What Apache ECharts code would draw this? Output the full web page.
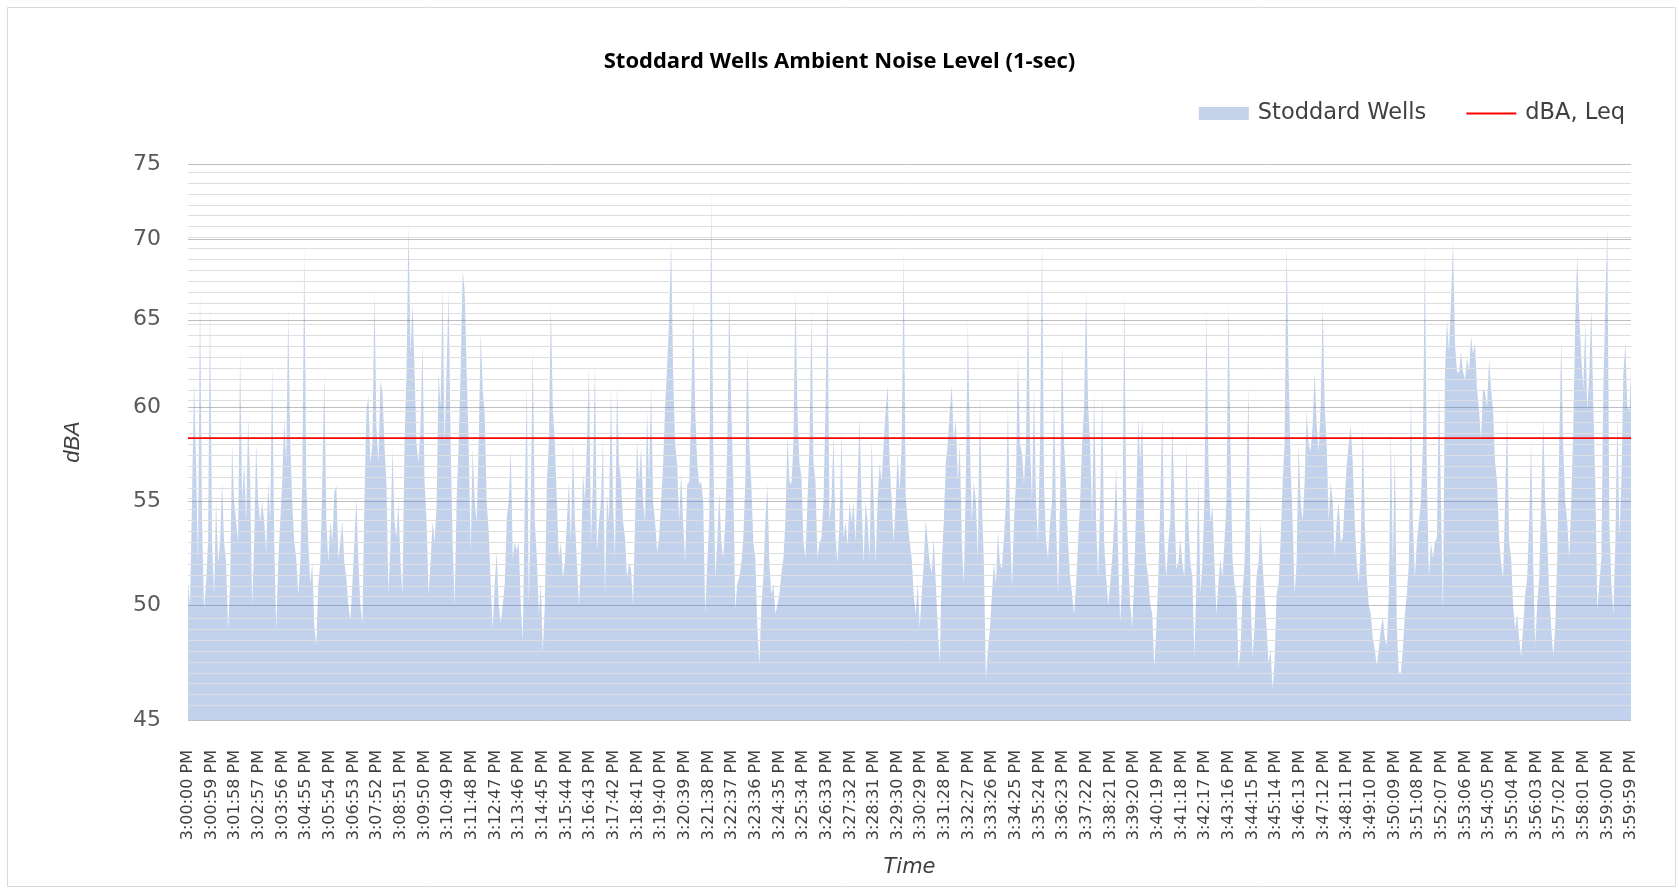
<!DOCTYPE html>
<html><head><meta charset="utf-8">
<script src="https://cdn.jsdelivr.net/npm/echarts@6/dist/echarts.min.js"></script>
<style>html,body{margin:0;padding:0;background:#fff}#chart{width:1679px;height:890px}</style>
</head><body><div id="chart"></div>
<script>
// ---------------- data ----------------
const chartTitle = 'Stoddard Wells Ambient Noise Level (1-sec)';
const areaName = 'Stoddard Wells';
const leqName = 'dBA, Leq';
const xName = 'Time';
const yName = 'dBA';
const durationSec = 3600;          // 3:00:00 PM .. 3:59:59 PM
const sampleStepSec = 5;
const xLabelEvery = 59;            // a tick label every 59 s
const yTickLabels = [45, 50, 55, 60, 65, 70, 75];
const yMin = 45, yMax = 75;
const minorPerMajor = 12;
const leqDBA = 58.3;

// start second of each segment; values every 5 s inside a segment
const segmentStartSec = [0, 310, 630, 960, 1280, 1605, 1930, 2255, 2580, 2905, 3230];
const levelsA = [51,50,55,61.5,57,52,66.7,54,49.8,51,
  53,65.7,53,50.5,55,52,53,56,53,52,
  48.9,51,58,55,54,53,63.1,55,57,54,
  59.4,56,50,53,58,55,54,55,54,52.5,
  56,54,62.5,53,48.9,52,54,56,59.4,57,
  65.5,58,55,53,52.2,50.5,52,56,69.5,56,
  53,51];
const levelsB = [52,49,48.2,51,52,56,61.9,54,52,54,
  53,55.5,55.8,52.2,53,54,52,51.3,50,49.3,
  51,53,55.2,52,50,49.2,55,59.8,60.6,57,
  58,66.8,58.8,57,61.5,60.8,58,55.8,50.5,53,
  57.8,54,53.2,55,52,50.5,58,62,71,63,
  66,62,58,57,59,63.6,56,54,50.5,52,
  54,53,54.8,61.9];
const levelsC = [60,67,58,62,66.8,58,53,50,55,58,
  62,68,66.8,62,58,52.5,57.8,55,54,58,
  64.2,61,59.6,55,53.5,51,48.9,51,52.5,50,
  49.2,50,51,54.2,55,57.8,52.2,53,52.6,53,
  50,48.4,55,61.2,50,55,63.4,54,52.2,49.6,
  51,47.9,50,56,58,65.9,59.8,58,55,52.2,
  53,51.3,52,54,56,53];
const levelsD = [58.2,54,52,50,52,56.5,55,58,62.3,53,
  56,62.5,52.6,54,55,58.2,50.5,55.3,54,61,
  55,52.2,61.2,57,56.1,54,53.2,51.3,52,51.7,
  50,54,58.2,56,57.8,55,54,59.8,56,61.2,
  55,54,52.5,53.2,55,56.9,60,62.3,65,69.8,
  61.9,58,56.9,54,56.5,54,52,55.9,56,60,
  66.2,59.8,57,55.9];
const levelsE = [56,55,49.6,52,54,73.2,58,51.3,53,55.5,
  53,52.2,54,58,66.6,60,56,49.8,51,51.3,
  52,53.2,56,63.4,58,55.9,53,52.2,49,47.3,
  50,51.3,54,55.9,52,50.5,51,49.6,50,50.5,
  51.5,52.2,54,58.4,56,55.9,58,66.7,59.8,57,
  56.3,53,52.2,55,58,65.5,57,56,52.2,53,
  53.2,55,60,66.8,54];
const levelsF = [55,58.5,53.2,52,54,58.6,53.2,54,52.8,55,
  54,55,53,56,59.4,55,52,55,54,52.2,
  58.2,55,52,55,57,56,58,59.8,61.2,57,
  55,53,55,57.5,55.5,58,69.2,55.2,54,53,
  52.2,50.5,49.6,51,49,50.5,52,54.1,53,52,
  51.5,53.2,51,49,47.4,52,54,57,58,59.8,
  61.2,58,59.4,56,58];
const levelsG = [53,51,56,65,58,54,56,55,52.2,60.6,
  55,52,46.7,48,48.9,50.5,52,51,53.5,52,
  51.7,53.2,55,60,54,50.8,54,56,63,58,
  57.5,55.9,58,66.9,58,55,61.2,55,53,58,
  70,56,53,52.2,54,55,60.6,54,50.5,55,
  63.7,58,55.9,53,51.3,50.5,49.6,51,53,55,
  58,60,66.8,60,58];
const levelsH = [54,60.8,54,51.3,55,60.6,53,51.3,50,51,
  52.2,54,56.8,52.2,49.2,51.3,66.8,55,52.2,50,
  49,51.3,55,59.4,57,59.4,54,52,51.3,50,
  49.6,47.2,49,51.3,55,59.6,53,51.3,53,54,
  59,55,51.7,52,53.2,52,51.3,58,54,52,
  51.3,47.7,51,56.2,50.5,52,55,65.5,57,54,
  54.8,52,49.6,51,52.2];
const levelsI = [51.3,53,55,66,58,52.2,51,50.5,47.2,48,
  50.5,52,56,61.2,50.5,47.7,49,51.3,52,54,
  52,50.5,49,47.4,48,46.3,47.5,50.5,51,53,
  55.9,58,69.8,62,56.9,54,50.5,52,58,55,
  54,56,59.8,58,57.6,59,62,59,57.6,60,
  65.9,60,58,54,56,55,52.2,54,55,53,
  53.2,55,56.9,58,59];
const levelsJ = [57,54,52,51,53,59,54,51.3,50,49.6,
  48.5,48,47.3,48,48.9,49.5,48.5,48.2,50.5,58.8,
  52,57.8,49,47,47,48,49.6,50.5,52,60.6,
  54,51.3,53,54,55,58,69.5,56,51.3,53,
  52.2,53,53.2,61.2,55,49.6,61.9,65,63.1,66,
  69.9,63.6,62,61.9,63.1,62,61.5,62.8,62,64,
  63,63.6,61,59.8,58.2];
const levelsK = [61,60.8,60,62.7,61,59.8,57,56,53.2,52,
  51.3,55,59.8,53,52.2,50,48.9,49.6,48.5,47.7,
  49,50.5,51.3,54,58.1,52,48.2,50,51.3,55,
  59.4,55,53.2,50.5,49,47.7,49,52.2,58,63.8,
  57.8,55,54,52.2,55,58.8,65,69,65.2,62.8,
  61,64.8,59.8,62,65.7,60,56,49.8,51,52.2,
  61,66,70.8,54,51,49.6,53,59.6,53.2,56,
  61.9,63.6,60,59.8];
const lastSample = [3599, 62];
const segments = [levelsA, levelsB, levelsC, levelsD, levelsE, levelsF, levelsG, levelsH, levelsI, levelsJ, levelsK];

// ---------------- build ----------------
const pad = n => (n < 10 ? '0' : '') + n;
const timeCategories = [];
for (let i = 0; i < durationSec; i++) {
  timeCategories.push('3:' + pad(Math.floor(i / 60)) + ':' + pad(i % 60) + ' PM');
}
const toAxis = v => Math.log(v);   // log-scaled value axis
const areaData = [];
segments.forEach((seg, k) => {
  seg.forEach((v, j) => areaData.push([segmentStartSec[k] + j * sampleStepSec, toAxis(v)]));
});
areaData.push([lastSample[0], toAxis(lastSample[1])]);

const minorLines = [];
const majorLines = [];
for (let k = 0; k < yTickLabels.length; k++) {
  const a = yTickLabels[k];
  majorLines.push({ yAxis: toAxis(a) });
  if (k < yTickLabels.length - 1) {
    const step = (yTickLabels[k + 1] - a) / minorPerMajor;
    for (let m = 1; m < minorPerMajor; m++) minorLines.push({ yAxis: toAxis(a + m * step) });
  }
}

const textColor = '#404040';
const chart = echarts.init(document.getElementById('chart'), null, { renderer: 'canvas' });
chart.setOption({
  animation: false,
  backgroundColor: '#ffffff',
  graphic: [{ type: 'rect', left: 5, top: 5, shape: { width: 1668, height: 879 }, style: { fill: 'none', stroke: '#D9D9D9', lineWidth: 1 }, silent: true }],
  title: {
    text: chartTitle, left: 'center', top: 46, padding: [5, 5, 5, 17],
    textStyle: { fontFamily: 'Open Sans', fontWeight: 'bold', fontSize: 22, color: '#000' }
  },
  legend: {
    right: 49, top: 97, itemWidth: 50, itemHeight: 13, itemGap: 40,
    textStyle: { fontFamily: 'DejaVu Sans', fontSize: 22.5, color: textColor, padding: [0, 0, 0, 4] },
    data: [
      { name: areaName, icon: 'rect', itemStyle: { color: '#C5D3EA' } },
      { name: leqName, icon: 'path://M0,0H50V2H0Z', itemStyle: { color: '#FF0000' } }
    ]
  },
  grid: { left: 188, right: 48, top: 164, bottom: 170, containLabel: false },
  xAxis: {
    type: 'category', data: timeCategories, boundaryGap: false,
    name: xName, nameLocation: 'middle', nameGap: 137,
    nameTextStyle: { fontFamily: 'DejaVu Sans', fontStyle: 'italic', fontSize: 21, color: textColor },
    axisLine: { show: false }, axisTick: { show: false }, splitLine: { show: false },
    axisLabel: { interval: xLabelEvery - 1, rotate: 90, margin: 30, fontFamily: 'DejaVu Sans', fontSize: 16, color: textColor }
  },
  yAxis: {
    type: 'value', min: toAxis(yMin), max: toAxis(yMax),
    name: yName, nameLocation: 'middle', nameGap: 104, nameRotate: 90,
    nameTextStyle: { fontFamily: 'Liberation Sans', fontStyle: 'italic', fontSize: 22, color: textColor },
    axisLine: { show: false },
    splitLine: { show: true, lineStyle: { color: '#BFBFBF', width: 1 } },
    axisTick: { show: false, customValues: yTickLabels.map(toAxis) },
    axisLabel: {
      customValues: yTickLabels.map(toAxis), margin: 27,
      fontFamily: 'DejaVu Sans', fontSize: 22, color: '#595959',
      formatter: v => String(Math.round(Math.exp(v)))
    }
  },
  series: [
    {
      name: '_grid', type: 'line', data: [[0, toAxis(yMin)]], symbol: 'none', silent: true, z: 1, clip: false,
      lineStyle: { opacity: 0 },
      markLine: { silent: true, symbol: 'none', label: { show: false }, animation: false,
        lineStyle: { color: '#DEDEDE', width: 1, type: 'solid' }, data: minorLines }
    },
    {
      name: areaName, type: 'line', data: areaData, symbol: 'none', showSymbol: false, z: 2,
      color: '#C5D3EA',
      lineStyle: { width: 0 },
      areaStyle: { color: 'rgba(68,114,196,0.32)', opacity: 1, origin: 'start' }
    },
    {
      name: leqName, type: 'line', data: [[0, toAxis(leqDBA)], [durationSec - 1, toAxis(leqDBA)]],
      symbol: 'none', z: 3, color: '#FF0000', lineStyle: { color: '#FF0000', width: 1.6 }
    }
  ]
});
</script></body></html>
